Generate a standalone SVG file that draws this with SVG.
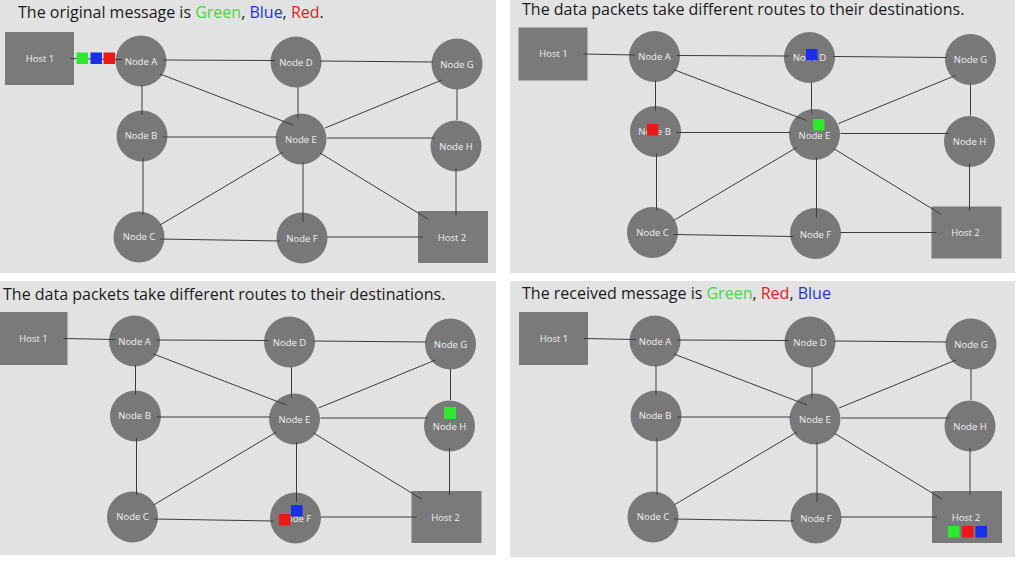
<svg xmlns="http://www.w3.org/2000/svg" width="1024" height="566" viewBox="0 0 1024 566">
<style>
.bg{fill:#e2e2e2}
.nd{fill:#787878}
.hs{fill:#7a7a7a}
.lb{font-family:"Open Sans","Liberation Sans",sans-serif;font-size:9.5px;fill:#f0f0f0;text-anchor:middle}
.ttl{font-family:"Open Sans","Liberation Sans",sans-serif;font-size:16px;fill:#1a1a1a}
.edges line{stroke:#3c3c3c;stroke-width:1;fill:none}
.g{fill:#2ee82e}.b{fill:#1a30e6}.r{fill:#ec1818}
.tg{fill:#3edc3e}.tb{fill:#2234cc}.tr{fill:#dd2222}
</style>
<rect width="1024" height="566" fill="#ffffff"/>
<rect class="bg" x="0" y="0" width="496" height="273"/>
<rect class="bg" x="510" y="0" width="505" height="273"/>
<rect class="bg" x="0" y="281" width="496" height="274"/>
<rect class="bg" x="510" y="281" width="505" height="276"/>

<text class="ttl" x="18" y="18">The original message is <tspan class="tg">Green</tspan>, <tspan class="tb">Blue</tspan>, <tspan class="tr">Red</tspan>.</text>
<text class="ttl" x="522" y="15">The data packets take different routes to their destinations.</text>
<text class="ttl" x="3" y="300">The data packets take different routes to their destinations.</text>
<text class="ttl" x="522" y="299">The received message is <tspan class="tg">Green</tspan>, <tspan class="tr">Red</tspan>, <tspan class="tb">Blue</tspan></text>

<!-- Panel 1 -->
<g id="panel1">
<g id="p1-host1"><rect class="hs" x="5" y="32" width="69" height="53"/><text class="lb" x="40" y="61.5">Host 1</text></g>
<g id="p1-nodeA"><circle class="nd" cx="141" cy="61" r="25.5"/><text class="lb" x="141" y="64.5">Node A</text></g>
<g id="p1-nodeD"><circle class="nd" cx="296" cy="62" r="25.5"/><text class="lb" x="296" y="65.5">Node D</text></g>
<g id="p1-nodeG"><circle class="nd" cx="457" cy="64" r="25.5"/><text class="lb" x="457" y="67.5">Node G</text></g>
<g id="p1-nodeB"><circle class="nd" cx="142" cy="136" r="25.5"/><text class="lb" x="141" y="139">Node B</text></g>
<g id="p1-nodeE"><circle class="nd" cx="301" cy="139" r="25.5"/><text class="lb" x="301" y="143">Node E</text></g>
<g id="p1-nodeH"><circle class="nd" cx="456" cy="146" r="25.5"/><text class="lb" x="456" y="149.5">Node H</text></g>
<g id="p1-nodeC"><circle class="nd" cx="139" cy="237" r="25.5"/><text class="lb" x="139" y="240">Node C</text></g>
<g id="p1-nodeF"><circle class="nd" cx="302" cy="238" r="25.5"/><text class="lb" x="302" y="242">Node F</text></g>
<g id="p1-host2"><rect class="hs" x="418" y="211" width="70" height="52"/><text class="lb" x="452" y="240.5">Host 2</text></g>
<g id="p1-edges" class="edges">
<line x1="70" y1="58.5" x2="122" y2="59.5"/>
<line x1="163" y1="60" x2="275" y2="60.5"/>
<line x1="320" y1="61" x2="433" y2="62"/>
<line x1="160" y1="74" x2="293" y2="125"/>
<line x1="298" y1="87" x2="298" y2="118"/>
<line x1="442" y1="80" x2="325" y2="128"/>
<line x1="457" y1="89" x2="457" y2="120"/>
<line x1="142" y1="85" x2="142" y2="115"/>
<line x1="163" y1="137" x2="277" y2="137"/>
<line x1="327" y1="138" x2="435" y2="138"/>
<line x1="143" y1="158" x2="143" y2="215"/>
<line x1="283" y1="152" x2="160" y2="225"/>
<line x1="303" y1="162" x2="303" y2="222"/>
<line x1="320" y1="153" x2="428" y2="219"/>
<line x1="456" y1="168" x2="456" y2="215"/>
<line x1="160" y1="239" x2="280" y2="241"/>
<line x1="327" y1="237" x2="423" y2="237"/>
</g>
</g>

<!-- Panel 2 -->
<g id="panel2" transform="translate(513.5,-4.5)">
<g id="p2-host1"><rect class="hs" x="5" y="32" width="69" height="53"/><text class="lb" x="40" y="61.5">Host 1</text></g>
<g id="p2-nodeA"><circle class="nd" cx="141" cy="61" r="25.5"/><text class="lb" x="141" y="64.5">Node A</text></g>
<g id="p2-nodeD"><circle class="nd" cx="296" cy="62" r="25.5"/><text class="lb" x="296" y="65.5">Node D</text></g>
<g id="p2-nodeG"><circle class="nd" cx="457" cy="64" r="25.5"/><text class="lb" x="457" y="67.5">Node G</text></g>
<g id="p2-nodeB"><circle class="nd" cx="142" cy="136" r="25.5"/><text class="lb" x="141" y="139">Node B</text></g>
<g id="p2-nodeE"><circle class="nd" cx="301" cy="139" r="25.5"/><text class="lb" x="301" y="143">Node E</text></g>
<g id="p2-nodeH"><circle class="nd" cx="456" cy="146" r="25.5"/><text class="lb" x="456" y="149.5">Node H</text></g>
<g id="p2-nodeC"><circle class="nd" cx="139" cy="237" r="25.5"/><text class="lb" x="139" y="240">Node C</text></g>
<g id="p2-nodeF"><circle class="nd" cx="302" cy="238" r="25.5"/><text class="lb" x="302" y="242">Node F</text></g>
<g id="p2-host2"><rect class="hs" x="418" y="211" width="70" height="52"/><text class="lb" x="452" y="240.5">Host 2</text></g>
<g id="p2-edges" class="edges">
<line x1="70" y1="58.5" x2="122" y2="59.5"/>
<line x1="163" y1="60" x2="275" y2="60.5"/>
<line x1="320" y1="61" x2="433" y2="62"/>
<line x1="160" y1="74" x2="293" y2="125"/>
<line x1="298" y1="87" x2="298" y2="118"/>
<line x1="442" y1="80" x2="325" y2="128"/>
<line x1="457" y1="89" x2="457" y2="120"/>
<line x1="142" y1="85" x2="142" y2="115"/>
<line x1="163" y1="137" x2="277" y2="137"/>
<line x1="327" y1="138" x2="435" y2="138"/>
<line x1="143" y1="158" x2="143" y2="215"/>
<line x1="283" y1="152" x2="160" y2="225"/>
<line x1="303" y1="162" x2="303" y2="222"/>
<line x1="320" y1="153" x2="428" y2="219"/>
<line x1="456" y1="168" x2="456" y2="215"/>
<line x1="160" y1="239" x2="280" y2="241"/>
<line x1="327" y1="237" x2="423" y2="237"/>
</g>
</g>

<!-- Panel 3 -->
<g id="panel3" transform="translate(-6.5,280)">
<g id="p3-host1"><rect class="hs" x="5" y="32" width="69" height="53"/><text class="lb" x="40" y="61.5">Host 1</text></g>
<g id="p3-nodeA"><circle class="nd" cx="141" cy="61" r="25.5"/><text class="lb" x="141" y="64.5">Node A</text></g>
<g id="p3-nodeD"><circle class="nd" cx="296" cy="62" r="25.5"/><text class="lb" x="296" y="65.5">Node D</text></g>
<g id="p3-nodeG"><circle class="nd" cx="457" cy="64" r="25.5"/><text class="lb" x="457" y="67.5">Node G</text></g>
<g id="p3-nodeB"><circle class="nd" cx="142" cy="136" r="25.5"/><text class="lb" x="141" y="139">Node B</text></g>
<g id="p3-nodeE"><circle class="nd" cx="301" cy="139" r="25.5"/><text class="lb" x="301" y="143">Node E</text></g>
<g id="p3-nodeH"><circle class="nd" cx="456" cy="146" r="25.5"/><text class="lb" x="456" y="149.5">Node H</text></g>
<g id="p3-nodeC"><circle class="nd" cx="139" cy="237" r="25.5"/><text class="lb" x="139" y="240">Node C</text></g>
<g id="p3-nodeF"><circle class="nd" cx="302" cy="238" r="25.5"/><text class="lb" x="302" y="242">Node F</text></g>
<g id="p3-host2"><rect class="hs" x="418" y="211" width="70" height="52"/><text class="lb" x="452" y="240.5">Host 2</text></g>
<g id="p3-edges" class="edges">
<line x1="70" y1="58.5" x2="122" y2="59.5"/>
<line x1="163" y1="60" x2="275" y2="60.5"/>
<line x1="320" y1="61" x2="433" y2="62"/>
<line x1="160" y1="74" x2="293" y2="125"/>
<line x1="298" y1="87" x2="298" y2="118"/>
<line x1="442" y1="80" x2="325" y2="128"/>
<line x1="457" y1="89" x2="457" y2="120"/>
<line x1="142" y1="85" x2="142" y2="115"/>
<line x1="163" y1="137" x2="277" y2="137"/>
<line x1="327" y1="138" x2="435" y2="138"/>
<line x1="143" y1="158" x2="143" y2="215"/>
<line x1="283" y1="152" x2="160" y2="225"/>
<line x1="303" y1="162" x2="303" y2="222"/>
<line x1="320" y1="153" x2="428" y2="219"/>
<line x1="456" y1="168" x2="456" y2="215"/>
<line x1="160" y1="239" x2="280" y2="241"/>
<line x1="327" y1="237" x2="423" y2="237"/>
</g>
</g>

<!-- Panel 4 -->
<g id="panel4" transform="translate(514,280)">
<g id="p4-host1"><rect class="hs" x="5" y="32" width="69" height="53"/><text class="lb" x="40" y="61.5">Host 1</text></g>
<g id="p4-nodeA"><circle class="nd" cx="141" cy="61" r="25.5"/><text class="lb" x="141" y="64.5">Node A</text></g>
<g id="p4-nodeD"><circle class="nd" cx="296" cy="62" r="25.5"/><text class="lb" x="296" y="65.5">Node D</text></g>
<g id="p4-nodeG"><circle class="nd" cx="457" cy="64" r="25.5"/><text class="lb" x="457" y="67.5">Node G</text></g>
<g id="p4-nodeB"><circle class="nd" cx="142" cy="136" r="25.5"/><text class="lb" x="141" y="139">Node B</text></g>
<g id="p4-nodeE"><circle class="nd" cx="301" cy="139" r="25.5"/><text class="lb" x="301" y="143">Node E</text></g>
<g id="p4-nodeH"><circle class="nd" cx="456" cy="146" r="25.5"/><text class="lb" x="456" y="149.5">Node H</text></g>
<g id="p4-nodeC"><circle class="nd" cx="139" cy="237" r="25.5"/><text class="lb" x="139" y="240">Node C</text></g>
<g id="p4-nodeF"><circle class="nd" cx="302" cy="238" r="25.5"/><text class="lb" x="302" y="242">Node F</text></g>
<g id="p4-host2"><rect class="hs" x="418" y="211" width="70" height="52"/><text class="lb" x="452" y="240.5">Host 2</text></g>
<g id="p4-edges" class="edges">
<line x1="70" y1="58.5" x2="122" y2="59.5"/>
<line x1="163" y1="60" x2="275" y2="60.5"/>
<line x1="320" y1="61" x2="433" y2="62"/>
<line x1="160" y1="74" x2="293" y2="125"/>
<line x1="298" y1="87" x2="298" y2="118"/>
<line x1="442" y1="80" x2="325" y2="128"/>
<line x1="457" y1="89" x2="457" y2="120"/>
<line x1="142" y1="85" x2="142" y2="115"/>
<line x1="163" y1="137" x2="277" y2="137"/>
<line x1="327" y1="138" x2="435" y2="138"/>
<line x1="143" y1="158" x2="143" y2="215"/>
<line x1="283" y1="152" x2="160" y2="225"/>
<line x1="303" y1="162" x2="303" y2="222"/>
<line x1="320" y1="153" x2="428" y2="219"/>
<line x1="456" y1="168" x2="456" y2="215"/>
<line x1="160" y1="239" x2="280" y2="241"/>
<line x1="327" y1="237" x2="423" y2="237"/>
</g>
</g>

<!-- Packets -->
<g id="packets">
<rect class="g" x="76.5" y="52.5" width="11.5" height="11.5"/>
<rect class="b" x="90.5" y="52.5" width="11.5" height="11.5"/>
<rect class="r" x="103.5" y="52.5" width="11.5" height="11.5"/>
<rect class="b" x="806" y="49" width="11.5" height="11.5"/>
<rect class="r" x="647" y="124" width="11.5" height="11.5"/>
<rect class="g" x="813" y="119" width="11.5" height="11.5"/>
<rect class="g" x="444" y="407" width="12" height="12"/>
<rect class="b" x="291" y="505" width="11.5" height="11.5"/>
<rect class="r" x="279" y="514" width="11.5" height="11.5"/>
<rect class="g" x="948" y="526" width="11.5" height="11.5"/>
<rect class="r" x="962" y="526" width="11.5" height="11.5"/>
<rect class="b" x="975.5" y="526" width="11.5" height="11.5"/>
</g>
</svg>
